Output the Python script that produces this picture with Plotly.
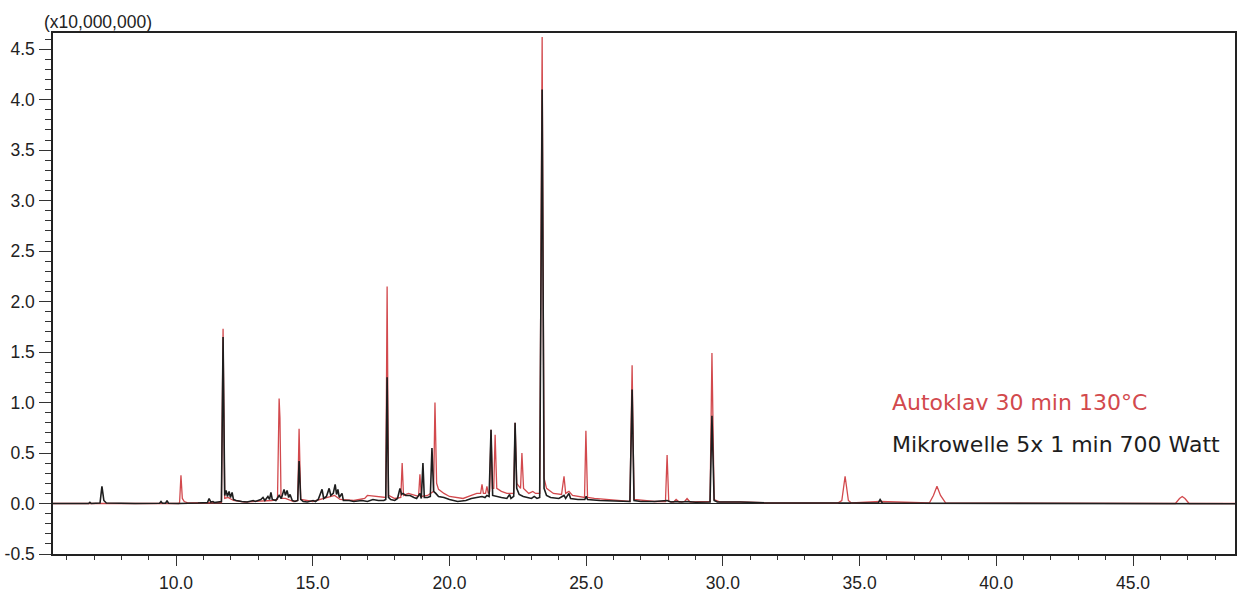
import plotly.graph_objects as go

# Retention time (min) and intensity (x10,000,000)
black_t = [5.5, 6.8, 6.85, 6.9, 7.22, 7.29, 7.36, 7.45, 8.5, 9.4, 9.45, 9.5, 9.62, 9.67, 9.72,
           10.1, 10.8, 11.15, 11.21, 11.27, 11.35, 11.4, 11.66, 11.72, 11.78, 11.83, 11.88, 11.94,
           11.99, 12.05, 12.1, 12.2, 12.4, 12.6, 12.82, 12.9, 13.0, 13.1, 13.18, 13.25, 13.36,
           13.42, 13.47, 13.52, 13.65, 13.77, 13.85, 13.95, 14.0, 14.06, 14.12, 14.17, 14.25,
           14.35, 14.45, 14.50, 14.56, 14.65, 14.8, 15.01, 15.1, 15.2, 15.34, 15.4, 15.5, 15.6,
           15.66, 15.75, 15.82, 15.87, 15.92, 15.97, 16.07, 16.12, 16.33, 16.5, 16.8, 17.0, 17.2,
           17.4, 17.6, 17.67, 17.72, 17.77, 17.85, 18.0, 18.1, 18.19, 18.25, 18.3, 18.4, 18.56,
           18.7, 18.8, 18.92, 18.97, 19.03, 19.08, 19.2, 19.3, 19.36, 19.42, 19.5, 19.6, 19.8,
           20.0, 20.3, 20.6, 20.8, 21.0, 21.19, 21.3, 21.37, 21.45, 21.52, 21.58, 21.7, 21.9,
           22.1, 22.2, 22.25, 22.35, 22.40, 22.46, 22.55, 22.7, 22.85, 23.0, 23.1, 23.2, 23.3,
           23.39, 23.46, 23.55, 23.7, 24.0, 24.19, 24.25, 24.37, 24.43, 24.7, 24.95, 25.0, 25.05,
           25.5, 26.0, 26.6, 26.68, 26.75, 27.0, 27.5, 27.96, 28.1, 28.29, 28.5, 28.69, 29.0,
           29.53, 29.60, 29.68, 29.8, 30.63, 31.5, 33.0, 34.4, 34.47, 35.0, 35.68, 35.75, 35.83,
           37.0, 40.0, 48.73]
black_y = [0.0, 0.0, 0.012, 0.0, 0.005, 0.17, 0.03, 0.005, 0.0, 0.003, 0.02, 0.003, 0.003, 0.03, 0.003,
           0.0, 0.005, 0.01, 0.05, 0.015, 0.02, 0.01, 0.02, 1.65, 0.08, 0.13, 0.07, 0.12,
           0.06, 0.11, 0.04, 0.03, 0.02, 0.015, 0.03, 0.02, 0.03, 0.04, 0.06, 0.03, 0.07,
           0.04, 0.11, 0.04, 0.03, 0.08, 0.05, 0.14, 0.08, 0.13, 0.06, 0.09, 0.03,
           0.02, 0.03, 0.42, 0.04, 0.02, 0.015, 0.03, 0.02, 0.04, 0.14, 0.05, 0.07, 0.15,
           0.08, 0.10, 0.19, 0.09, 0.14, 0.06, 0.10, 0.03, 0.03, 0.02, 0.03, 0.02, 0.04,
           0.03, 0.03, 0.04, 1.25, 0.06, 0.04, 0.03, 0.05, 0.15, 0.09, 0.10, 0.08, 0.08,
           0.06, 0.05, 0.10, 0.05, 0.40, 0.06, 0.06, 0.07, 0.55, 0.12, 0.10, 0.07, 0.06,
           0.04, 0.02, 0.03, 0.05, 0.06, 0.07, 0.06, 0.08, 0.07, 0.73, 0.08, 0.07, 0.06,
           0.05, 0.09, 0.05, 0.07, 0.80, 0.15, 0.09, 0.07, 0.06, 0.05, 0.07, 0.05, 0.06,
           4.10, 0.15, 0.08, 0.06, 0.05, 0.08, 0.05, 0.10, 0.05, 0.04, 0.04, 0.07, 0.04,
           0.03, 0.025, 0.02, 1.13, 0.03, 0.02, 0.02, 0.03, 0.015, 0.02, 0.015, 0.02, 0.012,
           0.015, 0.87, 0.03, 0.015, 0.015, 0.008, 0.005, 0.005, 0.01, 0.003, 0.005, 0.04, 0.005,
           0.003, 0.0, -0.003]

red_t = [5.5, 10.1, 10.13, 10.18, 10.23, 10.3, 10.45, 11.66, 11.72, 11.78, 11.9, 12.1, 12.5, 13.0,
         13.5, 13.71, 13.74, 13.77, 13.80, 13.84, 14.0, 14.3, 14.45, 14.50, 14.56, 15.0, 15.8,
         16.0, 16.5, 16.9, 17.0, 17.3, 17.5, 17.67, 17.72, 17.77, 18.0, 18.22, 18.27, 18.32,
         18.5, 18.7, 18.87, 18.92, 18.97, 19.2, 19.42, 19.47, 19.53, 19.6, 19.8, 20.0, 20.5,
         20.8, 21.0, 21.14, 21.19, 21.24, 21.32, 21.37, 21.42, 21.47, 21.52, 21.57, 21.62,
         21.67, 21.73, 21.9, 22.1, 22.35, 22.40, 22.46, 22.6, 22.65, 22.71, 22.9, 23.05, 23.15,
         23.3, 23.39, 23.46, 23.55, 23.8, 24.1, 24.19, 24.25, 24.37, 24.5, 24.94, 24.99, 25.05,
         25.3, 26.0, 26.6, 26.68, 26.75, 27.5, 27.9, 27.96, 28.02, 28.2, 28.29, 28.4, 28.6,
         28.69, 28.8, 29.53, 29.60, 29.68, 29.9, 30.63, 31.5, 34.2, 34.35, 34.47, 34.59, 34.7,
         35.75, 37.55, 37.7, 37.83, 37.96, 38.15, 46.55, 46.7, 46.8, 46.9, 47.05, 48.73]
red_y = [0.0, 0.0, 0.01, 0.28, 0.05, 0.02, 0.005, 0.01, 1.73, 0.05, 0.06, 0.03, 0.015, 0.02,
         0.03, 0.04, 0.90, 1.04, 0.85, 0.05, 0.05, 0.02, 0.03, 0.74, 0.04, 0.02, 0.08,
         0.04, 0.03, 0.05, 0.08, 0.07, 0.06, 0.06, 2.15, 0.08, 0.05, 0.06, 0.40, 0.08,
         0.10, 0.08, 0.07, 0.29, 0.07, 0.08, 0.12, 1.00, 0.20, 0.14, 0.10, 0.07, 0.05,
         0.08, 0.10, 0.10, 0.19, 0.10, 0.10, 0.17, 0.10, 0.12, 0.73, 0.15, 0.15,
         0.68, 0.15, 0.12, 0.10, 0.10, 0.80, 0.20, 0.15, 0.50, 0.15, 0.10, 0.12, 0.10,
         0.10, 4.62, 0.25, 0.15, 0.10, 0.09, 0.27, 0.10, 0.12, 0.08, 0.06, 0.72, 0.06,
         0.05, 0.03, 0.02, 1.37, 0.04, 0.02, 0.02, 0.48, 0.02, 0.015, 0.04, 0.015, 0.02,
         0.05, 0.015, 0.02, 1.49, 0.04, 0.015, 0.015, 0.008, 0.005, 0.03, 0.27, 0.03, 0.005,
         0.02, 0.005, 0.08, 0.17, 0.08, 0.005, 0.0, 0.05, 0.07, 0.05, 0.0, 0.0]

y_tick_vals = [-0.5, 0.0, 0.5, 1.0, 1.5, 2.0, 2.5, 3.0, 3.5, 4.0, 4.5]
y_tick_text = ["-0.5", "0.0", "0.5", "1.0", "1.5", "2.0", "2.5", "3.0", "3.5", "4.0", "4.5"]

red_label = "Autoklav 30 min 130°C"
black_label = "Mikrowelle 5x 1 min 700 Watt"
scale_label = "(x10,000,000)"

x_range = [5.5, 48.73]
y_range = [-0.5, 4.66]

RED = "#d2494d"
BLACK = "#1e1e1e"

fig = go.Figure()
fig.add_trace(go.Scatter(x=red_t, y=red_y, mode="lines", name=red_label,
                         line=dict(color=RED, width=1.3), showlegend=False))
fig.add_trace(go.Scatter(x=black_t, y=black_y, mode="lines", name=black_label,
                         line=dict(color=BLACK, width=1.6), showlegend=False))

tickfont = dict(family="Liberation Sans, Arial, sans-serif", size=17.5, color="#222")

fig.update_layout(
    width=1239, height=595,
    margin=dict(l=53, r=4, t=33, b=41, autoexpand=False),
    paper_bgcolor="white", plot_bgcolor="white",
    xaxis=dict(range=x_range, tick0=0, dtick=5, tickformat=".1f",
               ticks="outside", ticklen=10, tickwidth=1.2, tickcolor="#333",
               showline=True, linecolor="#222", linewidth=1.5, mirror=True,
               showgrid=False, zeroline=False, tickfont=tickfont, ticklabelstandoff=2,
               automargin=False,
               minor=dict(dtick=1, ticks="outside", ticklen=4, tickwidth=1.2,
                          tickcolor="#333", showgrid=False)),
    yaxis=dict(range=y_range, tickmode="array", tickvals=y_tick_vals, ticktext=y_tick_text,
               ticks="outside", ticklen=12, tickwidth=1.2, tickcolor="#333",
               showline=True, linecolor="#222", linewidth=1.5, mirror=True,
               showgrid=False, zeroline=True, zerolinecolor="#222", zerolinewidth=1.2,
               tickfont=tickfont, automargin=False, ticklabelstandoff=1,
               minor=dict(tickmode="linear", tick0=0, dtick=0.1, ticks="outside", ticklen=6,
                          tickwidth=1.2, tickcolor="#333", showgrid=False)),
    annotations=[
        dict(x=36.11, y=1.0, xref="x", yref="y", text=red_label, showarrow=False,
             xanchor="left", yanchor="middle",
             font=dict(family="DejaVu Sans, Verdana, sans-serif", size=22, color=RED)),
        dict(x=36.11, y=0.58, xref="x", yref="y", text=black_label, showarrow=False,
             xanchor="left", yanchor="middle",
             font=dict(family="DejaVu Sans, Verdana, sans-serif", size=22, color=BLACK)),
        dict(x=-0.0095, y=1.022, xref="paper", yref="paper", text=scale_label, showarrow=False,
             xanchor="left", yanchor="middle",
             font=dict(family="Liberation Sans, Arial, sans-serif", size=17.5, color="#222")),
    ],
)

# Remove the browser's default page margin so the figure fills the window exactly.
fig.write_html("out.html", config={"displayModeBar": False},
               post_script="document.body.style.margin='0';")
